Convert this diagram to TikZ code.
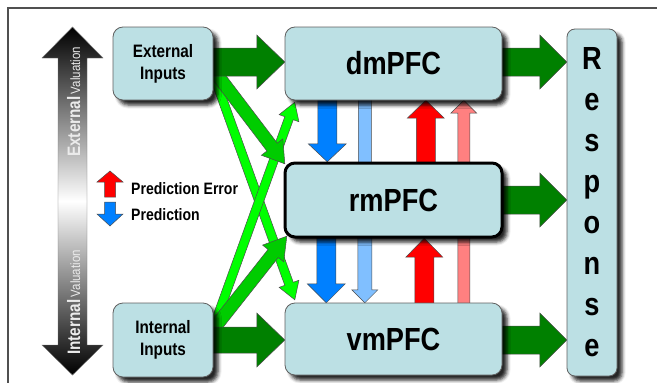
\documentclass[tikz,border=0pt]{standalone}
\usepackage{fontspec}
\setmainfont{Liberation Sans}[FakeStretch=0.85]
\usetikzlibrary{calc,shadows.blur}

\definecolor{boxfill}{RGB}{188,224,228}
\definecolor{boxline}{RGB}{96,96,96}
\definecolor{darkgr}{RGB}{0,128,0}
\definecolor{midgr}{RGB}{0,204,0}
\definecolor{litegr}{RGB}{0,255,0}
\definecolor{predblue}{RGB}{0,128,255}
\definecolor{predlight}{RGB}{128,191,255}
\definecolor{errred}{RGB}{255,0,0}
\definecolor{errlight}{RGB}{255,128,128}
\definecolor{framecol}{RGB}{80,80,80}

% block arrow: style, tail, tip, half shaft width, half head width, head length
\newcommand\blockarrow[6]{%
  \coordinate (ba-h) at ($(#3)!#6pt!(#2)$);
  \draw[#1] ($(#2)!#4pt!90:(#3)$) -- ($(ba-h)!#4pt!90:(#3)$)
    -- ($(ba-h)!#5pt!90:(#3)$) -- (#3) -- ($(ba-h)!#5pt!-90:(#3)$)
    -- ($(ba-h)!#4pt!-90:(#3)$) -- ($(#2)!#4pt!-90:(#3)$) -- cycle;}

\tikzset{
  arrowline/.style={draw=black!70, line width=0.5pt, line join=miter},
  dkgreen/.style={arrowline, fill=darkgr},
  mdgreen/.style={arrowline, fill=midgr},
  ltgreen/.style={arrowline, fill=litegr},
  predarrow/.style={arrowline, fill=predblue},
  predfaint/.style={arrowline, fill=predlight},
  errarrow/.style={arrowline, fill=errred},
  errfaint/.style={arrowline, fill=errlight},
  % sizes of the boxes
  insize/.style={minimum width=100pt, minimum height=73pt, inner sep=0pt},
  pfcsize/.style={minimum width=217pt, minimum height=73pt, inner sep=0pt},
  respsize/.style={minimum width=50pt, minimum height=347pt, inner sep=0pt},
  % look of the boxes
  box/.style={draw=boxline, fill=boxfill, rounded corners=10pt, line width=0.8pt,
    inner sep=0pt, align=center,
    blur shadow={shadow xshift=5pt, shadow yshift=-5pt, shadow blur radius=3.5pt, shadow opacity=85},
    font=\bfseries\fontsize{18}{22}\selectfont},
  pfcfont/.style={font=\bfseries\fontsize{32}{36}\selectfont},
  legendtext/.style={anchor=west, inner sep=0pt, font=\bfseries\fontsize{16.5}{18}\selectfont},
  valtext/.style={rotate=90, anchor=base west, inner sep=0pt, text=white!92!black},
}

\begin{document}
\begin{tikzpicture}[x=1pt, y=-1pt]
\useasboundingbox (0,0) rectangle (657,383);

% frame
\draw[framecol, line width=1.6pt] (8,383) -- (8,8) -- (657,8);

% external / internal valuation axis
\shadedraw[top color=black, bottom color=black, middle color=white, draw=black!55, line width=0.4pt]
  (72.5,27) -- (103,58) -- (87,58) -- (87,345) -- (103,345) -- (72.5,375)
  -- (42,345) -- (58,345) -- (58,58) -- (42,58) -- cycle;
\node[valtext] (extval) at (80,157) {{\bfseries\fontsize{18}{18}\selectfont External} {\fontsize{13.5}{14}\selectfont Valuation}};
\node[valtext] (intval) at (80,355) {{\bfseries\fontsize{18}{18}\selectfont Internal} {\fontsize{13.5}{14}\selectfont Valuation}};

% box outlines used as arrow anchors (the boxes are painted over the arrows)
\node[insize] (ei) at (163,63.5) {};
\node[insize, minimum height=74pt] (ii) at (163,340) {};
\node[pfcsize] (dm) at (393.5,63.5) {};
\node[pfcsize, minimum height=74pt] (rm) at (393.5,200) {};
\node[pfcsize, minimum height=72pt] (vm) at (393.5,339) {};
\node[respsize] (resp) at (592,202.5) {};

% diagonal input arrows
\coordinate (g2e) at (214,76);   \coordinate (g2tip) at ($(vm.north west)+(10,-3)$);
\coordinate (g2t) at ($(g2tip)!1.08!(g2e)$);
\blockarrow{ltgreen}{g2t}{g2tip}{4.5}{10.5}{17}
\coordinate (g3e) at (214,326);  \coordinate (g3tip) at ($(dm.south west)+(10,2)$);
\coordinate (g3t) at ($(g3tip)!1.08!(g3e)$);
\blockarrow{ltgreen}{g3t}{g3tip}{4.5}{10.5}{17}
\coordinate (g1e) at (215,72);   \coordinate (g1tip) at ($(rm.north west)+(0,1)$);
\coordinate (g1t) at ($(g1tip)!1.1!(g1e)$);
\blockarrow{mdgreen}{g1t}{g1tip}{6.5}{13.5}{21}
\coordinate (g4e) at (215,327);  \coordinate (g4tip) at ($(rm.south west)+(2,-1)$);
\coordinate (g4t) at ($(g4tip)!1.1!(g4e)$);
\blockarrow{mdgreen}{g4t}{g4tip}{6.5}{13.5}{22}

% horizontal pathway arrows
\coordinate (h1t) at ($(ei.east)+(-4,-1.5)$);   \coordinate (h1h) at ($(dm.west)+(0,-1.5)$);
\blockarrow{dkgreen}{h1t}{h1h}{14}{27}{28}
\coordinate (h2t) at ($(ii.east)+(-4,0)$);      \coordinate (h2h) at (ii.east -| vm.west);
\blockarrow{dkgreen}{h2t}{h2h}{13}{27}{28}
\coordinate (h3t) at ($(dm.east)+(-4,-1.5)$);   \coordinate (h3h) at ($(dm.east -| resp.west)+(0,-1.5)$);
\blockarrow{dkgreen}{h3t}{h3h}{14}{27}{27}
\coordinate (h4t) at ($(rm.east)+(-4,0)$);      \coordinate (h4h) at (rm.east -| resp.west);
\blockarrow{dkgreen}{h4t}{h4h}{14}{27}{27}
\coordinate (h5t) at ($(vm.east)+(-4,1)$);      \coordinate (h5h) at ($(vm.east -| resp.west)+(0,1)$);
\blockarrow{dkgreen}{h5t}{h5h}{14}{27}{27}

% predictions (downwards) between the prefrontal levels
\coordinate (p1t) at ($(dm.south west)+(42.5,-4)$);  \coordinate (p1h) at ($(rm.north west)+(42.5,-1)$);
\blockarrow{predarrow}{p1t}{p1h}{9.5}{19}{18}
\coordinate (p2t) at ($(dm.south west)+(80,-4)$);    \coordinate (p2h) at ($(rm.north west)+(80,22)$);
\blockarrow{predfaint}{p2t}{p2h}{6.5}{13}{13}
\coordinate (p3t) at ($(rm.south west)+(41.5,-4)$);  \coordinate (p3h) at ($(vm.north west)+(41.5,0)$);
\blockarrow{predarrow}{p3t}{p3h}{9.5}{19}{19}
\coordinate (p4t) at ($(rm.south west)+(80,-4)$);    \coordinate (p4h) at ($(vm.north west)+(80,0)$);
\blockarrow{predfaint}{p4t}{p4h}{7}{13}{13}

% prediction errors (upwards)
\coordinate (e1t) at ($(rm.north west)+(141,4)$);    \coordinate (e1h) at ($(dm.south west)+(141,0)$);
\blockarrow{errarrow}{e1t}{e1h}{9.5}{18.5}{18}
\coordinate (e2t) at ($(rm.north west)+(179,4)$);    \coordinate (e2h) at ($(dm.south west)+(179,0)$);
\blockarrow{errfaint}{e2t}{e2h}{6}{13}{13}
\coordinate (e3t) at ($(vm.north west)+(139.5,4)$);  \coordinate (e3h) at ($(rm.south west)+(139.5,1)$);
\blockarrow{errarrow}{e3t}{e3h}{9.5}{18.5}{19}
\coordinate (e4t) at ($(vm.north west)+(179,4)$);    \coordinate (e4h) at ($(rm.south west)+(179,-22)$);
\blockarrow{errfaint}{e4t}{e4h}{6}{13}{13}

% boxes
\node[box, insize] (eibox) at (ei) {External\\Inputs};
\node[box, insize, minimum height=74pt] (iibox) at (ii) {Internal\\Inputs};
\node[box, pfcsize, pfcfont] (dmbox) at (dm) {dmPFC};
\node[box, pfcsize, pfcfont, minimum height=72pt] (vmbox) at (vm) {vmPFC};
\node[box, pfcsize, pfcfont, minimum height=74pt, draw=black, line width=3pt] (rmbox) at (rm) {rmPFC};
\node[box, respsize, rounded corners=8pt,
  font=\bfseries\fontsize{32}{41}\selectfont] (respbox) at (resp) {R\\e\\s\\p\\o\\n\\s\\e};

% legend
\coordinate (lg1t) at (110,197); \coordinate (lg1h) at (110,171);
\blockarrow{errarrow}{lg1t}{lg1h}{5.5}{13}{11}
\coordinate (lg2t) at (110,202); \coordinate (lg2h) at (110,226);
\blockarrow{predarrow}{lg2t}{lg2h}{5.5}{13}{12}
\node[legendtext] (lgerr) at (131,189) {Prediction Error};
\node[legendtext] (lgpred) at (131,215) {Prediction};
\end{tikzpicture}
\end{document}
